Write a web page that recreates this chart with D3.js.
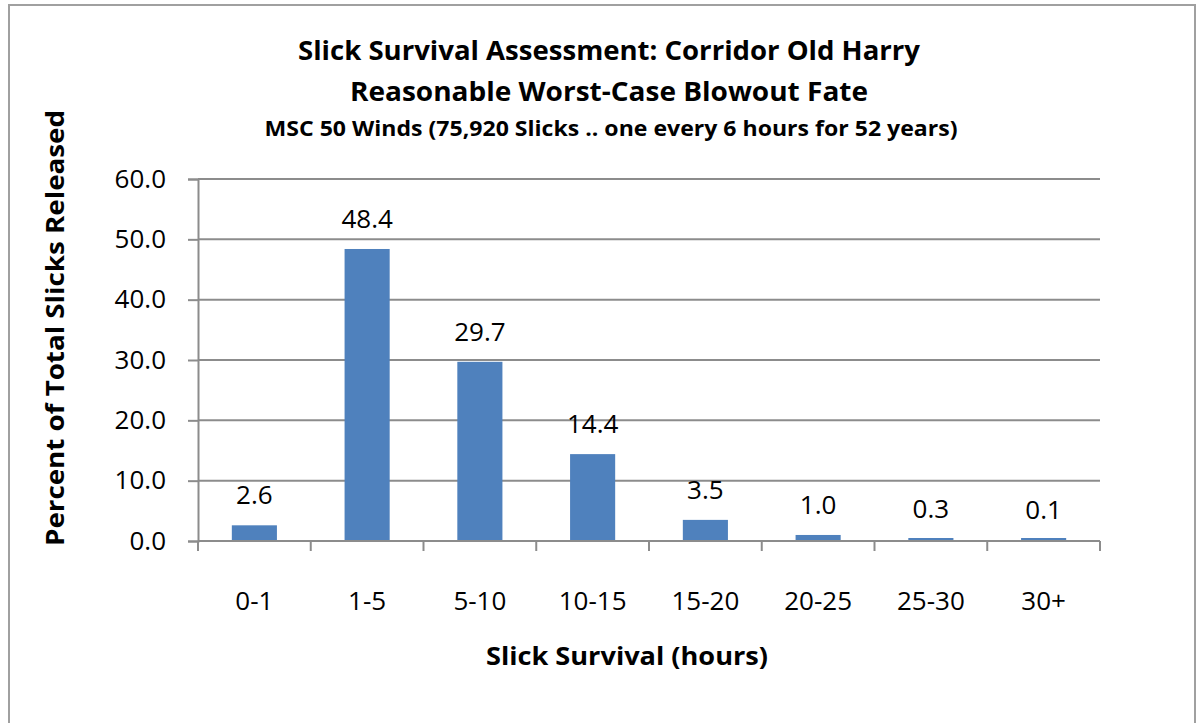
<!DOCTYPE html>
<html>
<head>
<meta charset="utf-8">
<script src="https://cdn.jsdelivr.net/npm/d3@7"></script>
<style>
  body { margin: 0; background: #fff; }
  text { font-family: "Open Sans", "Noto Sans", sans-serif; fill: #000; }
</style>
</head>
<body>
<div id="chart"></div>
<script>
// data
var categories = ["0-1", "1-5", "5-10", "10-15", "15-20", "20-25", "25-30", "30+"];
var percents = [2.6, 48.4, 29.7, 14.4, 3.5, 1.0, 0.3, 0.1];
var yTicks = [0, 10, 20, 30, 40, 50, 60];

var titleLines = [
  "Slick Survival  Assessment: Corridor Old Harry",
  "Reasonable  Worst-Case  Blowout  Fate"
];
var subTitle = "MSC 50 Winds (75,920 Slicks .. one every 6 hours for 52 years)";
var xTitle = "Slick Survival  (hours)";
var yTitle = "Percent of Total Slicks Released";

var width = 1204, height = 723;
var plotLeft = 198, plotRight = 1100, plotTop = 179, plotBottom = 541;

var svg = d3.select("#chart").append("svg")
  .attr("width", width)
  .attr("height", height);

// outer frame
svg.append("rect")
  .attr("x", 9).attr("y", 5)
  .attr("width", 1186).attr("height", 740)
  .style("fill", "none").style("stroke", "#a0a0a0").style("stroke-width", 2);

var x = d3.scaleBand()
  .domain(categories)
  .range([plotLeft, plotRight])
  .paddingInner(0.6)
  .paddingOuter(0.3);

var xEdges = d3.scaleBand().domain(categories).range([plotLeft, plotRight]);

var y = d3.scaleLinear()
  .domain([0, 60])
  .range([plotBottom, plotTop]);

// gridlines
svg.selectAll(".grid")
  .data(yTicks.slice(1)).enter()
  .append("line").attr("class", "grid")
  .attr("x1", plotLeft).attr("x2", plotRight)
  .attr("y1", function(d){ return y(d); })
  .attr("y2", function(d){ return y(d); })
  .style("stroke", "#8c8c8c").style("stroke-width", 2);

// y axis
var yAxis = svg.append("g")
  .attr("transform", "translate(" + plotLeft + ",0)")
  .call(d3.axisLeft(y).tickValues(yTicks).tickFormat(d3.format(".1f")).tickSize(10).tickPadding(22));
yAxis.select(".domain").style("stroke", "#8c8c8c").style("stroke-width", 2);
yAxis.selectAll(".tick line").style("stroke", "#8c8c8c").style("stroke-width", 2);
yAxis.selectAll(".tick text")
  .style("font-size", "26px")
  .style("font-family", "'Open Sans', sans-serif")
  .attr("fill", "#000");

// x axis with ticks at category edges
svg.append("line")
  .attr("x1", plotLeft).attr("x2", plotRight)
  .attr("y1", plotBottom).attr("y2", plotBottom)
  .style("stroke", "#8c8c8c").style("stroke-width", 2);
var edges = categories.map(function(c){ return xEdges(c); }).concat([plotRight]);
svg.selectAll(".xtick")
  .data(edges).enter()
  .append("line").attr("class", "xtick")
  .attr("x1", function(d){ return d; }).attr("x2", function(d){ return d; })
  .attr("y1", plotBottom).attr("y2", plotBottom + 10)
  .style("stroke", "#8c8c8c").style("stroke-width", 2);

// bars (tiny ones kept visible just above the axis line, as in the original)
svg.selectAll(".bar")
  .data(percents).enter()
  .append("rect").attr("class", "bar")
  .attr("x", function(d, i){ return x(categories[i]); })
  .attr("width", x.bandwidth())
  .attr("y", function(d){ return Math.min(y(d), plotBottom - 3); })
  .attr("height", function(d){ return Math.max(plotBottom - 1 - y(d), 2); })
  .style("fill", "#4f81bd");

svg.selectAll(".xlabel")
  .data(categories).enter()
  .append("text").attr("class", "xlabel")
  .attr("x", function(d){ return x(d) + x.bandwidth() / 2; })
  .attr("y", 610)
  .attr("text-anchor", "middle")
  .style("font-size", "26px")
  .text(function(d){ return d; });

// value labels
svg.selectAll(".vlabel")
  .data(percents).enter()
  .append("text").attr("class", "vlabel")
  .attr("x", function(d, i){ return x(categories[i]) + x.bandwidth() / 2; })
  .attr("y", function(d){ return y(d) - 21; })
  .attr("text-anchor", "middle")
  .style("font-size", "26px")
  .text(function(d){ return d3.format(".1f")(d); });

// titles
svg.selectAll(".title")
  .data(titleLines).enter()
  .append("text").attr("class", "title")
  .attr("x", 609)
  .attr("y", function(d, i){ return 60 + i * 41; })
  .attr("text-anchor", "middle")
  .attr("textLength", function(d, i){ return i == 0 ? 622 : 518; })
  .attr("lengthAdjust", "spacingAndGlyphs")
  .style("font-size", "27px").style("font-weight", "bold")
  .text(function(d){ return d; });

svg.append("text")
  .attr("x", 611).attr("y", 136)
  .attr("text-anchor", "middle")
  .attr("textLength", 693)
  .attr("lengthAdjust", "spacingAndGlyphs")
  .style("font-size", "21px").style("font-weight", "bold")
  .text(subTitle);

svg.append("text")
  .attr("x", 627).attr("y", 665)
  .attr("text-anchor", "middle")
  .attr("textLength", 282)
  .attr("lengthAdjust", "spacingAndGlyphs")
  .style("font-size", "25px").style("font-weight", "bold")
  .text(xTitle);

svg.append("text")
  .attr("transform", "translate(64,328) rotate(-90)")
  .attr("text-anchor", "middle")
  .attr("textLength", 436)
  .attr("lengthAdjust", "spacingAndGlyphs")
  .style("font-size", "25px").style("font-weight", "bold")
  .text(yTitle);
</script>
</body>
</html>
